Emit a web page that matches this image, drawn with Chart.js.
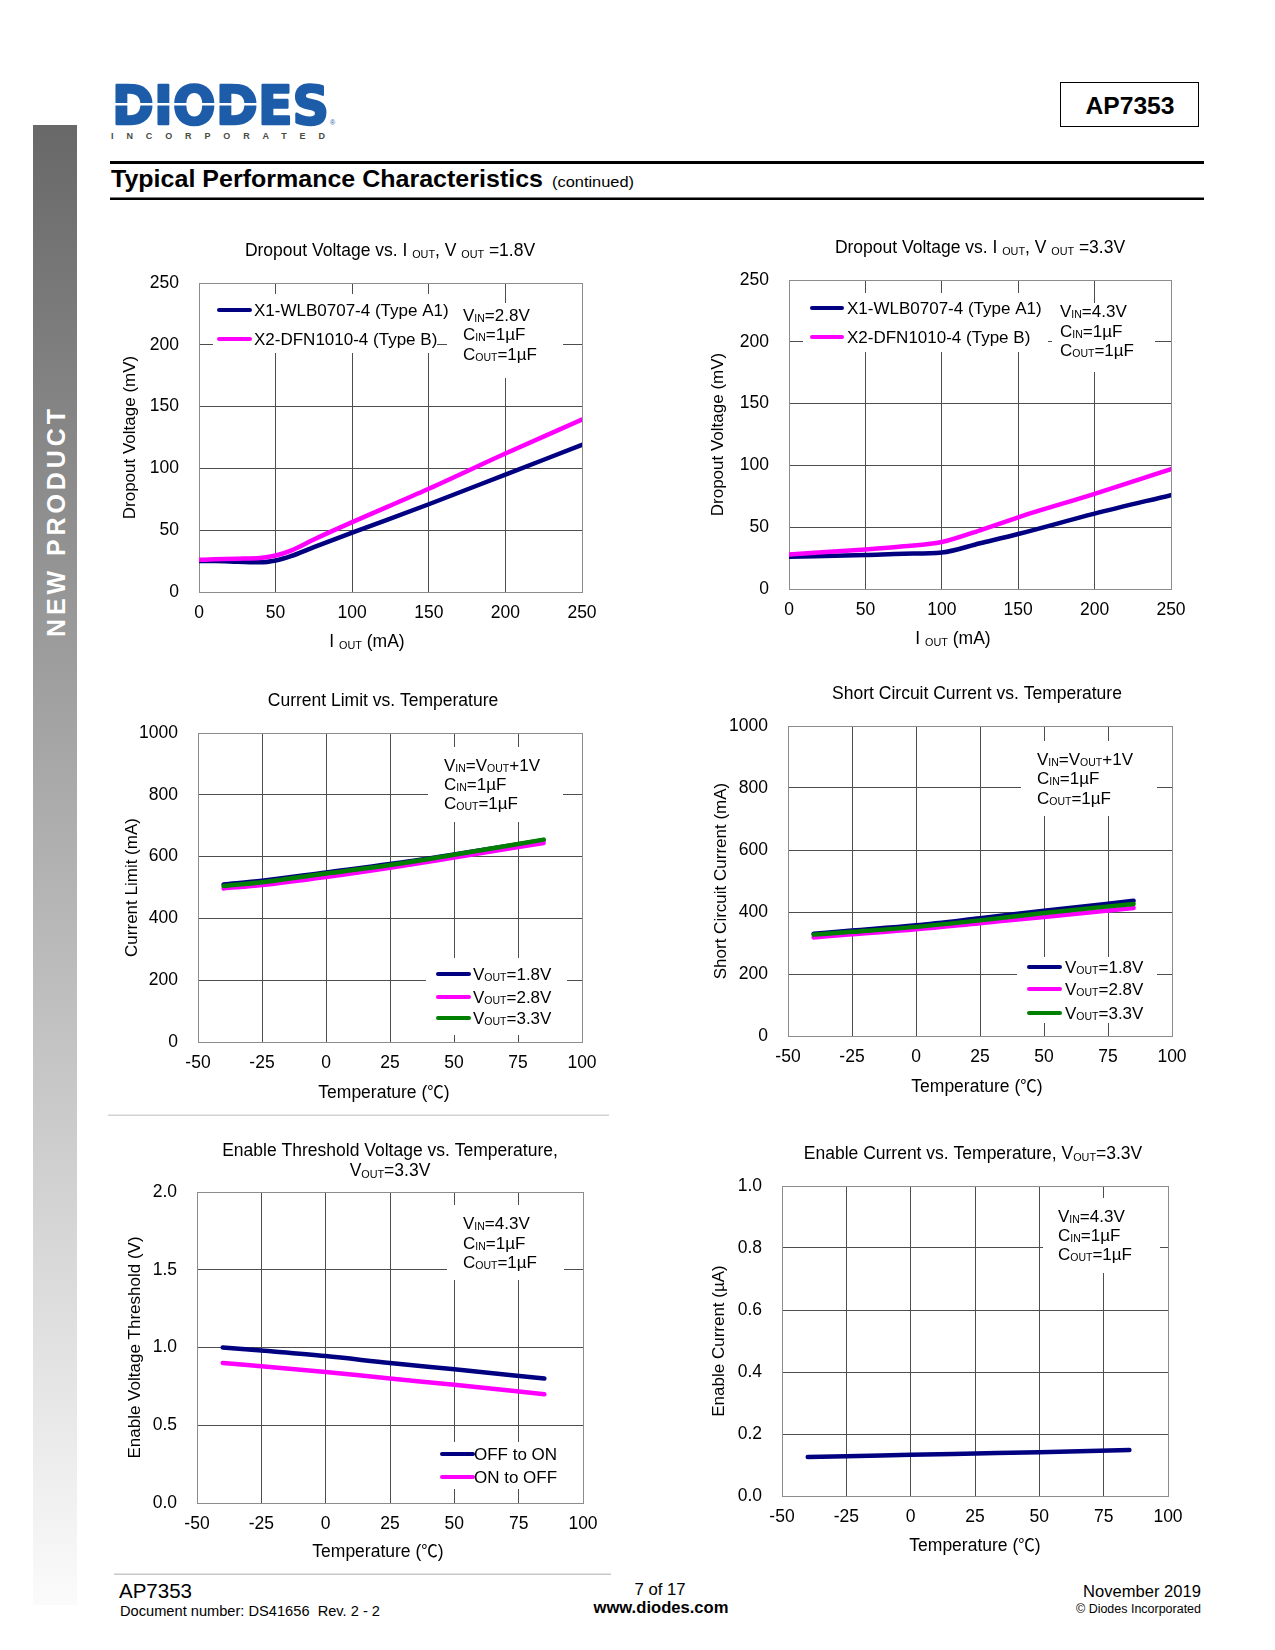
<!DOCTYPE html>
<html>
<head>
<meta charset="utf-8">
<title>AP7353 - Typical Performance Characteristics</title>
<script src="https://cdn.jsdelivr.net/npm/chart.js@4.4.1/dist/chart.umd.min.js"></script>
<style>
html, body { margin: 0; padding: 0; background: #fff; }
#page { position: relative; width: 1275px; height: 1650px; overflow: hidden; background: #fff; }
#sheet { position: absolute; left: 0; top: 0; }
.plot { position: absolute; }
.plot canvas { display: block; }
</style>
</head>
<body>
<div id="page">
<svg id="sheet" width="1275" height="1650" viewBox="0 0 1275 1650" font-family="'Liberation Sans', Arial, sans-serif">
  <defs>
    <linearGradient id="barFade" x1="0" y1="0" x2="0" y2="1">
      <stop offset="0" stop-color="#686868"/>
      <stop offset="1" stop-color="#fbfbfb"/>
    </linearGradient>
  </defs>
  <rect x="33" y="125" width="44" height="1480" fill="url(#barFade)"/>
  <text x="55.5" y="532" transform="rotate(-90 55.5 523)" text-anchor="middle" font-weight="bold" font-size="25" fill="#fff" textLength="228" lengthAdjust="spacing">NEW PRODUCT</text>

  <text x="112" y="124" font-family="'DejaVu Sans'" font-weight="bold" font-size="54" fill="#1d5ca8" stroke="#1d5ca8" stroke-width="2.5" stroke-linejoin="round" textLength="217" lengthAdjust="spacingAndGlyphs">DIODES</text>
  <rect x="111" y="103" width="150" height="2.5" fill="#fff"/>
  <text x="330" y="125" font-size="7" fill="#1d5ca8">®</text>
  <text x="111" y="139" font-weight="bold" font-size="9" fill="#4b4b3f" textLength="214" lengthAdjust="spacing">INCORPORATED</text>

  <rect x="1060.5" y="82.5" width="138" height="44" fill="none" stroke="#000" stroke-width="1"/>
  <text x="1130" y="113.5" text-anchor="middle" font-weight="bold" font-size="24" textLength="89" lengthAdjust="spacingAndGlyphs">AP7353</text>

  <rect x="110" y="161" width="1094" height="3" fill="#000"/>
  <text x="111" y="187" font-family="'Liberation Sans Narrow', 'Liberation Sans', sans-serif" font-weight="bold" font-size="24" textLength="432" lengthAdjust="spacingAndGlyphs">Typical Performance Characteristics</text>
  <text x="552" y="187" font-size="15" textLength="82" lengthAdjust="spacingAndGlyphs">(continued)</text>
  <rect x="110" y="197.5" width="1094" height="2.5" fill="#000"/>

  <rect x="108" y="1114.5" width="501" height="1.5" fill="#d2d2d2"/>

  <rect x="114" y="1573.5" width="497" height="1.5" fill="#c8c8c8"/>
  <text x="119" y="1598" font-size="20" textLength="73" lengthAdjust="spacingAndGlyphs">AP7353</text>
  <text x="120" y="1616" font-size="14.5" textLength="260" lengthAdjust="spacingAndGlyphs" xml:space="preserve">Document number: DS41656  Rev. 2 - 2</text>
  <text x="660" y="1595" text-anchor="middle" font-size="16" textLength="51" lengthAdjust="spacingAndGlyphs">7 of 17</text>
  <text x="661" y="1613" text-anchor="middle" font-weight="bold" font-size="16.5" textLength="135" lengthAdjust="spacingAndGlyphs">www.diodes.com</text>
  <text x="1201" y="1597" text-anchor="end" font-size="16.5" textLength="118" lengthAdjust="spacingAndGlyphs">November 2019</text>
  <text x="1201" y="1613" text-anchor="end" font-size="12" textLength="125" lengthAdjust="spacingAndGlyphs">© Diodes Incorporated</text>
</svg>
</div>

<script>
// ---- chart data ----

// Dropout Voltage vs. IOUT, VOUT=1.8V
const iout18 = [0, 10, 25, 40, 50, 60, 75, 100, 150, 200, 250];
const dropA1_18 = [25, 25, 24.5, 24, 25.5, 29, 36.3, 48, 71, 95, 119];
const dropB_18 = [26, 26.5, 27, 27.5, 29.5, 33.5, 42.5, 56.5, 83.5, 112, 139.5];

// Dropout Voltage vs. IOUT, VOUT=3.3V
const iout33 = [0, 50, 75, 100, 125, 150, 200, 250];
const dropA1_33 = [26, 27.5, 28.5, 29.5, 37, 44.5, 61, 76];
const dropB_33 = [28, 32, 34.5, 38, 47.5, 58, 77, 97];

// temperature sweeps
const temps = [-40, -25, 0, 25, 50, 85];

const limit18 = [510, 522, 549, 576, 607, 653];
const limit28 = [497, 508, 534, 564, 597, 644];
const limit33 = [505, 517, 545, 573, 606, 655];

const short18 = [330, 340, 357, 380, 404, 436];
const short28 = [318, 328, 344, 364, 384, 413];
const short33 = [327, 336, 352, 373, 397, 426];

const enOffToOn = [1.0, 0.98, 0.945, 0.9, 0.86, 0.8];
const enOnToOff = [0.9, 0.88, 0.843, 0.8, 0.76, 0.7];

const enCurrent = [0.126, 0.128, 0.133, 0.137, 0.141, 0.148];

// tick labels
const ioutTicks = [0, 50, 100, 150, 200, 250];
const dropTicks = [0, 50, 100, 150, 200, 250];
const tempTicks = [-50, -25, 0, 25, 50, 75, 100];
const currentTicks = [0, 200, 400, 600, 800, 1000];
const thresholdTicks = [0, 0.5, 1.0, 1.5, 2.0];
const enCurrentTicks = [0, 0.2, 0.4, 0.6, 0.8, 1.0];

// series names
const packageLabels = ['X1-WLB0707-4 (Type A1)', 'X2-DFN1010-4 (Type B)'];
const voutLabels = ['V_{OUT}=1.8V', 'V_{OUT}=2.8V', 'V_{OUT}=3.3V'];
const thresholdLabels = ['OFF to ON', 'ON to OFF'];

// test conditions
const notesDrop18 = ['V_{IN}=2.8V', 'C_{IN}=1µF', 'C_{OUT}=1µF'];
const notesDrop33 = ['V_{IN}=4.3V', 'C_{IN}=1µF', 'C_{OUT}=1µF'];
const notesTemp = ['V_{IN}=V_{OUT}+1V', 'C_{IN}=1µF', 'C_{OUT}=1µF'];
const notesEnable = ['V_{IN}=4.3V', 'C_{IN}=1µF', 'C_{OUT}=1µF'];

(function(){

    const FONT = "'Liberation Sans', Arial, 'Noto Sans CJK SC', sans-serif";
    const CJK_FONT = "'Noto Sans CJK SC', 'Noto Sans CJK JP', sans-serif";
    const NAVY = '#000080';
    const MAGENTA = '#ff00ff';
    const GREEN = '#008000';

    const TICK_FS = 17.5;
    const TEXT_FS = 17.5;
    const NOTE_FS = 17;

    const AXIS_W = 95;
    const TOP_PAD = 60;
    const RIGHT_PAD = 35;
    const X_AXIS_H = 70;

    var _specs = [
        {
            plot: [199, 283, 582, 592],
            xTicks: ioutTicks, yTicks: dropTicks, digits: 0,
            yTitle: 'Dropout Voltage (mV)', yTitleX: 130,
            title: ['Dropout Voltage vs. I _{OUT}, V _{OUT} =1.8V'], titleX: 390, titleY: [250],
            xTitle: 'I _{OUT} (mA)', xTitleX: 367, xTitleY: 641,
            series: [
                { label: packageLabels[0], x: iout18, y: dropA1_18, color: NAVY },
                { label: packageLabels[1], x: iout18, y: dropB_18, color: MAGENTA }
            ],
            legend: { box: [213, 294, 437, 353], line: [219, 250], x: 254, rows: [310, 339] },
            note: { box: [447, 303, 563, 378], x: 463, rows: [315, 334, 354], lines: notesDrop18 }
        },
        {
            plot: [789, 280, 1171, 589],
            xTicks: ioutTicks, yTicks: dropTicks, digits: 0,
            yTitle: 'Dropout Voltage (mV)', yTitleX: 718,
            title: ['Dropout Voltage vs. I _{OUT}, V _{OUT} =3.3V'], titleX: 980, titleY: [247],
            xTitle: 'I _{OUT} (mA)', xTitleX: 953, xTitleY: 638,
            series: [
                { label: packageLabels[0], x: iout33, y: dropA1_33, color: NAVY },
                { label: packageLabels[1], x: iout33, y: dropB_33, color: MAGENTA }
            ],
            legend: { box: [803, 293, 1048, 352], line: [812, 842], x: 847, rows: [308, 337] },
            note: { box: [1052, 303, 1155, 372], x: 1060, rows: [311, 331, 350], lines: notesDrop33 }
        },
        {
            plot: [198, 733, 582, 1042],
            xTicks: tempTicks, yTicks: currentTicks, digits: 0,
            yTitle: 'Current Limit (mA)', yTitleX: 132,
            title: ['Current Limit vs. Temperature'], titleX: 383, titleY: [700],
            xTitle: 'Temperature (\u2103)', xTitleX: 384, xTitleY: 1092,
            series: [
                { label: voutLabels[0], x: temps, y: limit18, color: NAVY },
                { label: voutLabels[1], x: temps, y: limit28, color: MAGENTA },
                { label: voutLabels[2], x: temps, y: limit33, color: GREEN }
            ],
            legend: { box: [426, 958, 567, 1035], line: [438, 469], x: 473, rows: [974, 997, 1018] },
            note: { box: [428, 747, 563, 822], x: 444, rows: [765, 784, 803], lines: notesTemp }
        },
        {
            plot: [788, 726, 1172, 1036],
            xTicks: tempTicks, yTicks: currentTicks, digits: 0,
            yTitle: 'Short Circuit Current (mA)', yTitleX: 721,
            title: ['Short Circuit Current vs. Temperature'], titleX: 977, titleY: [693],
            xTitle: 'Temperature (\u2103)', xTitleX: 977, xTitleY: 1086,
            series: [
                { label: voutLabels[0], x: temps, y: short18, color: NAVY },
                { label: voutLabels[1], x: temps, y: short28, color: MAGENTA },
                { label: voutLabels[2], x: temps, y: short33, color: GREEN }
            ],
            legend: { box: [1017, 957, 1157, 1023], line: [1029, 1060], x: 1065, rows: [967, 989, 1013] },
            note: { box: [1021, 741, 1157, 816], x: 1037, rows: [759, 778, 798], lines: notesTemp }
        },
        {
            plot: [197, 1192, 583, 1503],
            xTicks: tempTicks, yTicks: thresholdTicks, digits: 1,
            yTitle: 'Enable Voltage Threshold (V)', yTitleX: 135,
            title: ['Enable Threshold Voltage vs. Temperature,', 'V_{OUT}=3.3V'], titleX: 390, titleY: [1150, 1170],
            xTitle: 'Temperature (\u2103)', xTitleX: 378, xTitleY: 1551,
            series: [
                { label: thresholdLabels[0], x: temps, y: enOffToOn, color: NAVY },
                { label: thresholdLabels[1], x: temps, y: enOnToOff, color: MAGENTA }
            ],
            legend: { box: [437, 1442, 566, 1489], line: [442, 473], x: 474, rows: [1454, 1477] },
            note: { box: [447, 1205, 564, 1280], x: 463, rows: [1223, 1243, 1262], lines: notesEnable }
        },
        {
            plot: [782, 1186, 1168, 1496],
            xTicks: tempTicks, yTicks: enCurrentTicks, digits: 1,
            yTitle: 'Enable Current (\u00b5A)', yTitleX: 719,
            title: ['Enable Current vs. Temperature, V_{OUT}=3.3V'], titleX: 973, titleY: [1153],
            xTitle: 'Temperature (\u2103)', xTitleX: 975, xTitleY: 1545,
            series: [
                { label: 'Enable Current', x: temps, y: enCurrent, color: NAVY }
            ],
            legend: null,
            note: { box: [1043, 1198, 1160, 1273], x: 1058, rows: [1216, 1235, 1254], lines: notesEnable }
        }
    ];

    // split "V_{OUT}=1.8V" into runs: 'n' normal, 's' subscript, 'c' CJK symbol
    function _richParts(str){
        let parts = [], re = /_\{([^}]*)\}|\u2103/g, last = 0, m;
        while((m = re.exec(str))){
            if(m.index > last) parts.push([str.slice(last, m.index), 'n']);
            if(m[0] === '\u2103') parts.push(['\u2103', 'c']);
            else parts.push([m[1], 's']);
            last = re.lastIndex;
        }
        if(last < str.length) parts.push([str.slice(last), 'n']);
        return parts;
    }

    // y is the vertical centre of the capitals
    function _drawRich(ctx, str, x, y, size, align){
        let parts = _richParts(str);
        let fonts = {
            n: size + 'px ' + FONT,
            s: (size * 0.62).toFixed(1) + 'px ' + FONT,
            c: (size * 0.95).toFixed(1) + 'px ' + CJK_FONT
        };
        let width = 0;
        parts.forEach(function(p){
            ctx.font = fonts[p[1]];
            width += ctx.measureText(p[0]).width;
        });
        let cx = align === 'center' ? x - width / 2 : x;
        let base = y + size * 0.358;
        ctx.textAlign = 'left';
        ctx.textBaseline = 'alphabetic';
        parts.forEach(function(p){
            ctx.font = fonts[p[1]];
            ctx.fillText(p[0], cx, p[1] === 's' ? base + size * 0.08 : base);
            cx += ctx.measureText(p[0]).width;
        });
    }

    function _notesPlugin(spec){
        const L = spec.plot[0], T = spec.plot[1];
        function px(ch, x){ return ch.chartArea.left + x - L; }
        function py(ch, y){ return ch.chartArea.top + y - T; }

        return {
            id: 'pageNotes',
            beforeDatasetsDraw: function(ch){
                let ctx = ch.ctx;
                ctx.save();
                ctx.fillStyle = '#fff';
                [spec.legend, spec.note].forEach(function(b){
                    if(!b) return;
                    ctx.fillRect(px(ch, b.box[0]), py(ch, b.box[1]), b.box[2] - b.box[0], b.box[3] - b.box[1]);
                });
                ctx.restore();
            },
            afterDraw: function(ch){
                let ctx = ch.ctx;
                ctx.save();
                ctx.fillStyle = '#000';
                spec.title.forEach(function(t, i){
                    _drawRich(ctx, t, px(ch, spec.titleX), py(ch, spec.titleY[i]), TEXT_FS, 'center');
                });
                _drawRich(ctx, spec.xTitle, px(ch, spec.xTitleX), py(ch, spec.xTitleY), TEXT_FS, 'center');

                if(spec.note){
                    spec.note.lines.forEach(function(t, i){
                        _drawRich(ctx, t, px(ch, spec.note.x), py(ch, spec.note.rows[i]), NOTE_FS, 'left');
                    });
                }
                if(spec.legend){
                    ch.data.datasets.forEach(function(ds, i){
                        let y = py(ch, spec.legend.rows[i]);
                        ctx.strokeStyle = ds.borderColor;
                        ctx.lineWidth = 4;
                        ctx.lineCap = 'round';
                        ctx.beginPath();
                        ctx.moveTo(px(ch, spec.legend.line[0]), y);
                        ctx.lineTo(px(ch, spec.legend.line[1]), y);
                        ctx.stroke();
                        ctx.fillStyle = '#000';
                        _drawRich(ctx, ds.label, px(ch, spec.legend.x), y, NOTE_FS, 'left');
                    });
                }
                ctx.restore();
            }
        };
    }

    function _gridColor(ticks){
        const lo = ticks[0], hi = ticks[ticks.length - 1];
        return function(c){
            if(c.tick && (c.tick.value === hi || c.tick.value === lo)) return '#8c8c8c';
            return '#4d4d4d';
        };
    }

    function _axis(ticks, extra){
        let axis = {
            type: 'linear',
            min: ticks[0],
            max: ticks[ticks.length - 1],
            afterBuildTicks: function(s){ s.ticks = ticks.map(function(v){ return { value: v }; }); },
            grid: { color: _gridColor(ticks), lineWidth: 1, drawTicks: false },
            border: { color: '#8c8c8c', width: 1 },
            ticks: { font: { family: FONT, size: TICK_FS }, color: '#000', autoSkip: false, maxRotation: 0 }
        };
        return Object.assign(axis, extra);
    }

    function _drawChart(spec){
        const L = spec.plot[0], T = spec.plot[1], R = spec.plot[2], B = spec.plot[3];
        const w = R - L + AXIS_W + RIGHT_PAD;
        const h = B - T + TOP_PAD + X_AXIS_H;

        let holder = document.createElement('div');
        holder.className = 'plot';
        holder.style.left = (L - AXIS_W) + 'px';
        holder.style.top = (T - TOP_PAD) + 'px';
        holder.style.width = w + 'px';
        holder.style.height = h + 'px';
        let canvas = document.createElement('canvas');
        canvas.width = w;
        canvas.height = h;
        canvas.style.width = w + 'px';
        canvas.style.height = h + 'px';
        holder.appendChild(canvas);
        document.getElementById('page').appendChild(holder);

        const titleLine = 17 * 1.2;
        const titlePad = spec.yTitleX - (L - AXIS_W) - titleLine / 2;

        let xAxis = _axis(spec.xTicks, {
            afterFit: function(s){ s.height = X_AXIS_H; }
        });
        xAxis.ticks.padding = 11;
        xAxis.ticks.callback = function(v){ return String(v); };

        let yAxis = _axis(spec.yTicks, {
            afterFit: function(s){ s.width = AXIS_W; },
            title: {
                display: true,
                text: spec.yTitle,
                color: '#000',
                font: { family: FONT, size: 17 },
                padding: { top: titlePad, bottom: 0 }
            }
        });
        yAxis.ticks.padding = 20;
        yAxis.ticks.callback = function(v){ return Number(v).toFixed(spec.digits); };

        const n = spec.series.length;
        new Chart(canvas, {
            type: 'line',
            data: {
                datasets: spec.series.map(function(s, i){
                    return {
                        label: s.label,
                        data: s.x.map(function(x, k){ return { x: x, y: s.y[k] }; }),
                        borderColor: s.color,
                        backgroundColor: s.color,
                        borderWidth: 4.5,
                        pointRadius: 0,
                        tension: 0.4,
                        cubicInterpolationMode: 'monotone',
                        borderCapStyle: 'round',
                        fill: false,
                        order: n - 1 - i   // later series painted on top
                    };
                })
            },
            options: {
                responsive: false,
                animation: false,
                layout: { padding: { top: TOP_PAD, right: RIGHT_PAD, left: 0, bottom: 0 } },
                plugins: { legend: { display: false }, tooltip: { enabled: false } },
                scales: { x: xAxis, y: yAxis }
            },
            plugins: [_notesPlugin(spec)]
        });
    }

    window.onload = function(){
        _specs.forEach(_drawChart);
    };

})();
</script>
</body>
</html>
